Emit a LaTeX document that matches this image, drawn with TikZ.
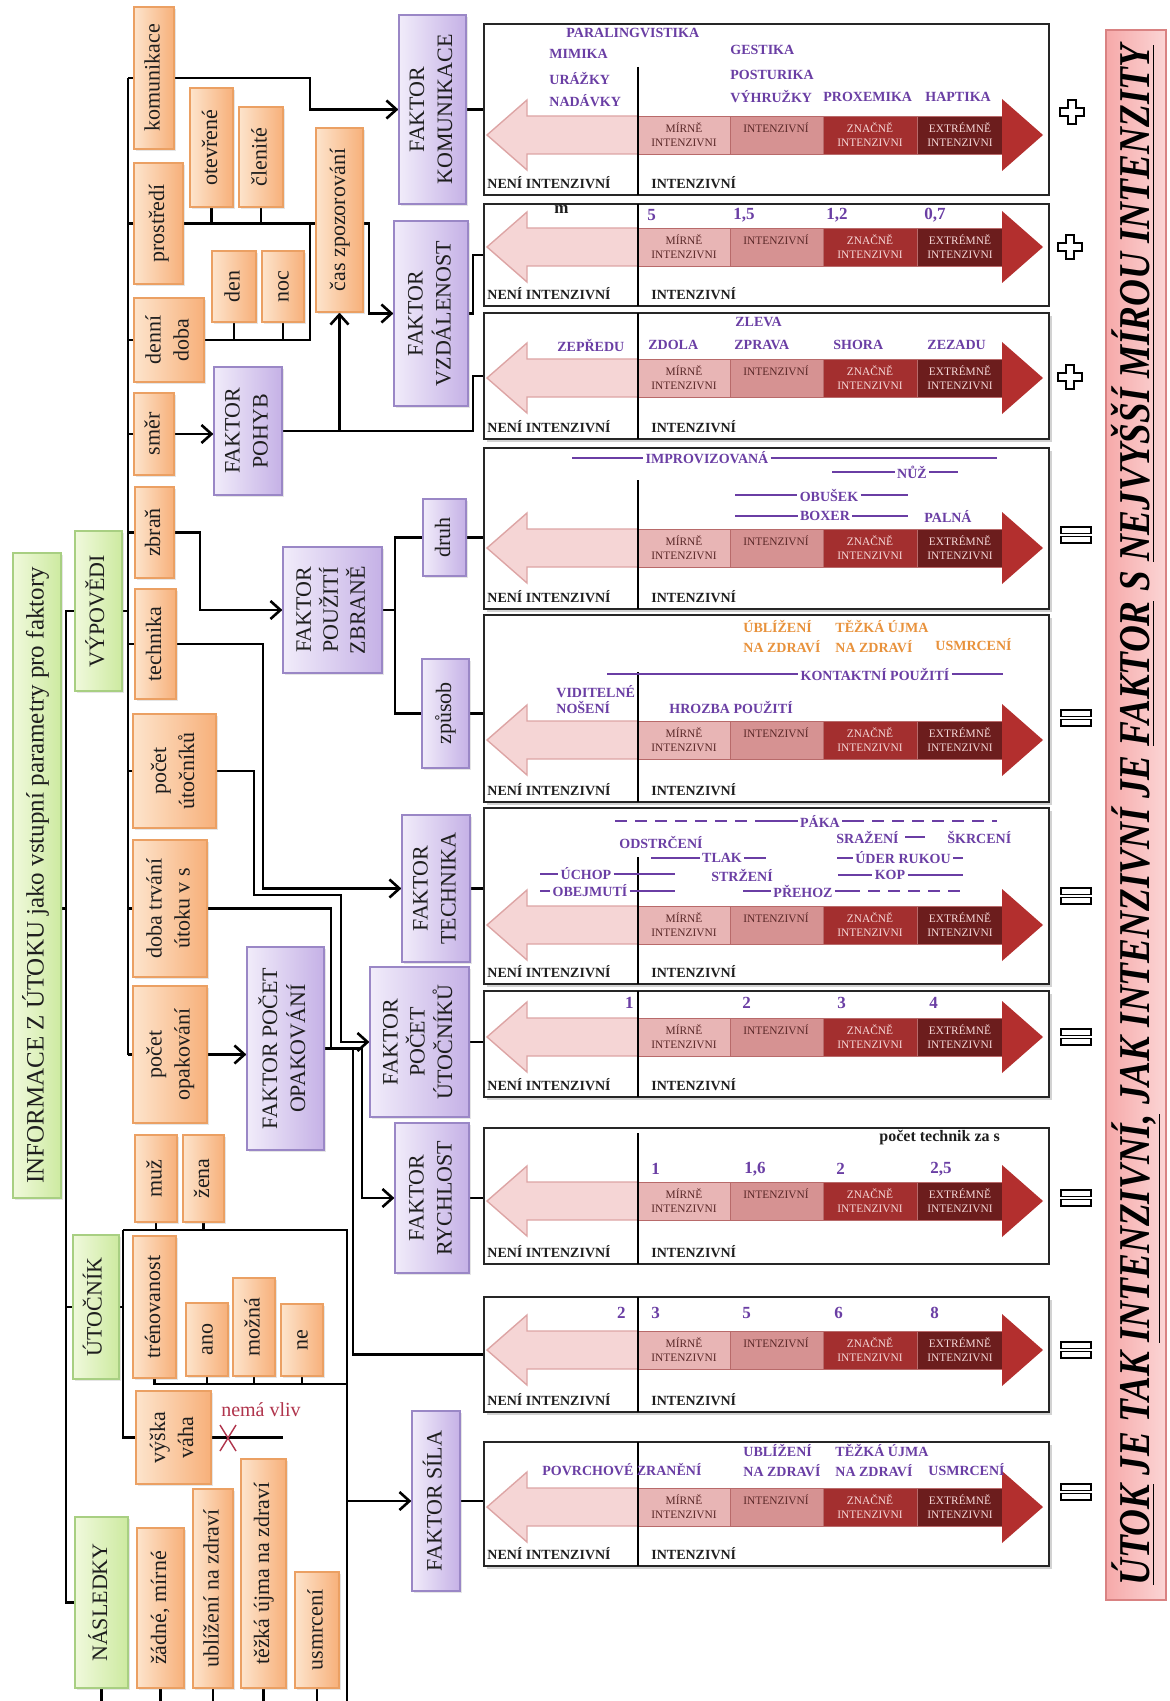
\documentclass[tikz,border=0pt]{standalone}
\usepackage{fontspec}
\setmainfont{Liberation Serif}
\usepackage{graphicx}
\usepackage{tikz}
\usetikzlibrary{arrows.meta,fit,backgrounds,shadows}
\pgfdeclarelayer{paper}
\pgfsetlayers{paper,background,main}
\definecolor{ink}{HTML}{1E1E1E}
\definecolor{orangeL}{HTML}{FDE4CC}
\definecolor{orangeD}{HTML}{F7B07A}
\definecolor{orangeB}{HTML}{EBA063}
\definecolor{purpleL}{HTML}{F1ECFA}
\definecolor{purpleD}{HTML}{C5B1E6}
\definecolor{purpleB}{HTML}{9A87C6}
\definecolor{greenL}{HTML}{F0F9DC}
\definecolor{greenD}{HTML}{CDEAA0}
\definecolor{greenB}{HTML}{A8CF82}
\definecolor{labviolet}{HTML}{6A3EA4}
\definecolor{laborange}{HTML}{E8923C}
\definecolor{arrL}{HTML}{F5D5D5}
\definecolor{arrLB}{HTML}{DDA5A5}
\definecolor{segA}{HTML}{E8B5B5}
\definecolor{segB}{HTML}{D69292}
\definecolor{segC}{HTML}{A32F2F}
\definecolor{segD}{HTML}{6C1D1D}
\definecolor{segE}{HTML}{B32F2E}
\definecolor{segline}{HTML}{B86A6A}
\definecolor{segink}{HTML}{5A2828}
\definecolor{seglight}{HTML}{F6D8D8}
\definecolor{noeff}{HTML}{B0344C}
\definecolor{bannerL}{HTML}{F6A9A9}
\definecolor{bannerR}{HTML}{FBD5D5}
\definecolor{bannerB}{HTML}{D98282}
\tikzset{
  conn/.style={line width=1.3pt, draw=black},
  arr/.style={-{Straight Barb[length=5pt,width=9pt]}},
  boxbase/.style={inner sep=0pt, line width=0.6pt, text=ink,
    font=\fontsize{11}{14}\selectfont,
    drop shadow={shadow xshift=1pt, shadow yshift=-1pt, opacity=0.2}},
  obox/.style={boxbase, draw=orangeB, left color=orangeL, right color=orangeD},
  pbox/.style={boxbase, draw=purpleB, left color=purpleL, right color=purpleD},
  gbox/.style={boxbase, draw=greenB, left color=greenL, right color=greenD},
  panel/.style={draw=black!85, line width=0.9pt, fill=white, inner sep=0pt},
  panelsh/.style={panel, drop shadow={shadow xshift=1.5pt, shadow yshift=-1.5pt, opacity=0.35}},
  leftarr/.style={fill=arrL, draw=arrLB, line width=0.7pt},
  segbox/.style={draw=segline, line width=0.4pt},
  segtxt/.style={font=\fontsize{5.7}{7}\selectfont, align=center, text=segink, inner sep=0pt},
  divline/.style={draw=black, line width=1pt},
  zone/.style={font=\bfseries\fontsize{7}{8}\selectfont, text=ink, inner sep=1pt},
  lab/.style={font=\bfseries\fontsize{7}{8.5}\selectfont, text=labviolet, inner sep=1pt},
  labo/.style={lab, text=laborange, align=left, font=\bfseries\fontsize{7}{10}\selectfont},
  numlab/.style={font=\bfseries\fontsize{8.5}{9}\selectfont, text=labviolet, inner sep=1pt},
  labline/.style={draw=labviolet, line width=1pt},
  dashln/.style={labline, dash pattern=on 6pt off 4pt},
  signmark/.style={draw=black, line width=0.9pt, fill=white},
  banner/.style={draw=bannerB, line width=0.8pt, left color=bannerL, right color=bannerR, inner sep=0pt}
}
% rotated box text
\newcommand{\vtext}[1]{\rotatebox{90}{\begin{tabular}{@{}c@{}}#1\end{tabular}}}
% box from its corners: style, name, x1, y1, x2, y2, text
\newcommand{\treebox}[7]{\node[#1, minimum width={(#5-#3)*0.5pt}, minimum height={(#6-#4)*0.5pt}]
  (#2) at ({(#3+#5)/2},{(#4+#6)/2}) {\vtext{#7}};}
% intensity scale: name, top, bottom, bar centre, divider top, frame style
\newcommand{\intpanel}[6]{%
  \node[#6, fit={(484,#2) (1049,#3)}] (#1) {};
  \filldraw[leftarr] (487,#4) -- (527,{#4-35}) -- (527,{#4-19}) -- (638,{#4-19})
    -- (638,{#4+19}) -- (527,{#4+19}) -- (527,{#4+35}) -- cycle;
  \filldraw[segbox, fill=segA] (638,{#4-19}) rectangle (730,{#4+19});
  \filldraw[segbox, fill=segB] (730,{#4-19}) rectangle (823,{#4+19});
  \filldraw[segbox, fill=segC] (823,{#4-19}) rectangle (917,{#4+19});
  \filldraw[segbox, fill=segD] (917,{#4-19}) rectangle (1002,{#4+19});
  \fill[segE] (1002,{#4-36}) -- (1043,#4) -- (1002,{#4+36}) -- cycle;
  \node[segtxt] (#1-a) at (684,#4) {MÍRNĚ\\INTENZIVNI};
  \node[segtxt] (#1-b) at (776,{#4-7}) {INTENZIVNÍ};
  \node[segtxt, text=seglight] (#1-c) at (870,#4) {ZNAČNĚ\\INTENZIVNI};
  \node[segtxt, text=seglight] (#1-d) at (960,#4) {EXTRÉMNĚ\\INTENZIVNI};
  \draw[divline] (638,#5) -- (638,#3);
  \node[zone, anchor=west] (#1-no) at (485,{#3-12}) {NENÍ INTENZIVNÍ};
  \node[zone, anchor=west] (#1-yes) at (649,{#3-12}) {INTENZIVNÍ};
}
\newcommand{\plusmark}[2]{\draw[signmark, line width=1.1pt, shift={(#1,#2)}] (-4,-12) -- (4,-12) -- (4,-4) -- (12,-4)
  -- (12,4) -- (4,4) -- (4,12) -- (-4,12) -- (-4,4) -- (-12,4) -- (-12,-4) -- (-4,-4) -- cycle;}
\newcommand{\eqmark}[2]{\draw[signmark, line width=0.8pt, shift={(#1,#2)}] (-15,-8) rectangle (15,-1.5) (-15,1.5) rectangle (15,8);}

\begin{document}
\begin{tikzpicture}[x=0.5pt, y=-0.5pt]
  \begin{pgfonlayer}{paper}
    \fill[white] (0,0) rectangle (1170,1701);
  \end{pgfonlayer}
  \useasboundingbox (0,0) rectangle (1170,1701);

  % bus positions
  \coordinate (trunk) at (66,0);
  \coordinate (vbus) at (128,0);
  \coordinate (kbus) at (310,0);
  \coordinate (pbus) at (369,0);
  \coordinate (rbus) at (473,0);
  \coordinate (wbus) at (200,0);
  \coordinate (zbus) at (395,0);
  \coordinate (tbus) at (263,0);
  \coordinate (abus) at (254,0);
  \coordinate (alev) at (0,895);
  \coordinate (abus2) at (341,0);
  \coordinate (dbus) at (331,0);
  \coordinate (obus) at (362,0);
  \coordinate (obus2) at (353,0);
  \coordinate (ubus) at (123,1230);
  \coordinate (sbus) at (347,1230);
  \coordinate (tlev) at (347,1384);
  \coordinate (btm) at (0,1701);
  \coordinate (cut) at (283,1437.5);

  % green groups
  \treebox{gbox, font=\fontsize{12.5}{14}\selectfont}{info}{13}{553}{61}{1198}{INFORMACE Z ÚTOKU jako vstupní parametry pro faktory}
  \treebox{gbox}{vyp}{75}{531}{122}{691}{VÝPOVĚDI}
  \treebox{gbox}{utoc}{73}{1235}{119}{1379}{ÚTOČNÍK}
  \treebox{gbox}{nasl}{75}{1517}{128}{1688}{NÁSLEDKY}

  % statements
  \treebox{obox}{komun}{134}{7}{174}{149}{komunikace}
  \treebox{obox}{prostr}{134}{163}{183}{284}{prostředí}
  \treebox{obox}{denni}{134}{298}{204}{382}{denní\\doba}
  \treebox{obox}{smer}{134}{393}{174}{475}{směr}
  \treebox{obox}{zbran}{135}{487}{174}{578}{zbraň}
  \treebox{obox}{techn}{135}{589}{176}{699}{technika}
  \treebox{obox}{pocut}{133}{714}{216}{828}{počet\\útočníků}
  \treebox{obox}{doba}{133}{840}{207}{977}{doba trvání\\útoku v s}
  \treebox{obox}{pocop}{133}{986}{207}{1123}{počet\\opakování}
  \treebox{obox}{otevr}{190}{88}{233}{207}{otevřené}
  \treebox{obox}{clen}{239}{107}{283}{207}{členité}
  \treebox{obox}{den}{212}{251}{256}{322}{den}
  \treebox{obox}{noc}{262}{251}{304}{322}{noc}
  \treebox{obox}{cas}{316}{128}{363}{312}{čas zpozorování}

  % attacker
  \treebox{obox}{muz}{135}{1135}{177}{1222}{muž}
  \treebox{obox}{zena}{183}{1135}{224}{1222}{žena}
  \treebox{obox}{trenov}{133}{1236}{176}{1378}{trénovanost}
  \treebox{obox}{ano}{186}{1303}{228}{1376}{ano}
  \treebox{obox}{mozna}{233}{1278}{275}{1376}{možná}
  \treebox{obox}{neb}{281}{1304}{323}{1376}{ne}
  \treebox{obox}{vyska}{136}{1391}{211}{1484}{výška\\váha}

  % consequences
  \treebox{obox}{zadne}{137}{1528}{184}{1688}{žádné, mírné}
  \treebox{obox}{ublizeni}{193}{1489}{233}{1688}{ublížení na zdraví}
  \treebox{obox}{tezka}{241}{1459}{286}{1688}{těžká újma na zdraví}
  \treebox{obox}{usmrceni}{295}{1572}{339}{1688}{usmrcení}

  % factors
  \treebox{pbox}{fkom}{399}{15}{466}{204}{FAKTOR\\KOMUNIKACE}
  \treebox{pbox}{fvzd}{394}{221}{468}{406}{FAKTOR\\VZDÁLENOST}
  \treebox{pbox}{fpoh}{214}{367}{282}{495}{FAKTOR\\POHYB}
  \treebox{pbox, font=\fontsize{11}{13.5}\selectfont}{fzbr}{283}{547}{382}{673}{FAKTOR\\POUŽITÍ\\ZBRANĚ}
  \treebox{pbox}{druh}{423}{499}{466}{576}{druh}
  \treebox{pbox}{zpusob}{422}{659}{469}{768}{způsob}
  \treebox{pbox}{ftech}{402}{815}{470}{962}{FAKTOR\\TECHNIKA}
  \treebox{pbox}{fopak}{247}{947}{324}{1150}{FAKTOR POČET\\OPAKOVÁNÍ}
  \treebox{pbox, font=\fontsize{11}{13.5}\selectfont}{futoc}{370}{967}{469}{1117}{FAKTOR\\POČET\\ÚTOČNÍKŮ}
  \treebox{pbox}{frych}{395}{1123}{469}{1273}{FAKTOR\\RYCHLOST}
  \treebox{pbox}{fsila}{412}{1411}{460}{1591}{FAKTOR SÍLA}

  % intensity scales
  \intpanel{p1}{24}{195}{135}{67}{panel}
  \intpanel{p2}{204}{306}{247}{204}{panel}
  \intpanel{p3}{313}{439}{378}{313}{panelsh}
  \intpanel{p4}{448}{609}{548}{480}{panelsh}
  \intpanel{p5}{615}{802}{740}{672}{panelsh}
  \intpanel{p6}{808}{984}{925}{857}{panelsh}
  \intpanel{p7}{991}{1097}{1037}{991}{panelsh}
  \intpanel{p8}{1128}{1264}{1201}{1133}{panel}
  \intpanel{p9}{1297}{1412}{1350}{1297}{panelsh}
  \intpanel{p10}{1442}{1566}{1507}{1442}{panelsh}

  % communication
  \node[lab, anchor=west] (paraling) at (564,33) {PARALINGVISTIKA};
  \node[lab, anchor=west] (mimika) at (547,54) {MIMIKA};
  \node[lab, anchor=west] (urazky) at (547,78) {URÁŽKY};
  \node[lab, anchor=west] (nadavky) at (547,101) {NADÁVKY};
  \node[lab, anchor=west] (gestika) at (728,50) {GESTIKA};
  \node[lab, anchor=west] (posturika) at (728,75) {POSTURIKA};
  \node[lab, anchor=west] (vyhruzky) at (728,97) {VÝHRUŽKY};
  \node[lab, anchor=west] (proxemika) at (821,97) {PROXEMIKA};
  \node[lab, anchor=west] (haptika) at (923,97) {HAPTIKA};

  % distance
  \node[numlab, text=ink, anchor=west] (munit) at (552,209) {m};
  \node[numlab, anchor=west] (d5) at (645,215) {5};
  \node[numlab, anchor=west] (d15) at (731,215) {1,5};
  \node[numlab, anchor=west] (d12) at (824,215) {1,2};
  \node[numlab, anchor=west] (d07) at (922,215) {0,7};

  % direction
  \node[lab, anchor=west] (zleva) at (733,322) {ZLEVA};
  \node[lab, anchor=west] (zepredu) at (555,345) {ZEPŘEDU};
  \node[lab, anchor=west] (zdola) at (646,345) {ZDOLA};
  \node[lab, anchor=west] (zprava) at (732,345) {ZPRAVA};
  \node[lab, anchor=west] (shora) at (831,345) {SHORA};
  \node[lab, anchor=west] (zezadu) at (925,345) {ZEZADU};

  % weapon kind
  \node[lab] (improv) at (707,458) {IMPROVIZOVANÁ};
  \draw[labline] (572,458) -- (improv.west) (improv.east) -- (997,458);
  \node[lab] (nuz) at (912,472) {NŮŽ};
  \draw[labline] (832,472) -- (nuz.west) (nuz.east) -- (958,472);
  \node[lab] (obusek) at (829,495) {OBUŠEK};
  \draw[labline] (735,495) -- (obusek.west) (obusek.east) -- (908,495);
  \node[lab] (boxer) at (825,516) {BOXER};
  \draw[labline] (735,516) -- (boxer.west) (boxer.east) -- (908,516);
  \node[lab, anchor=west] (palna) at (922,516) {PALNÁ};

  % weapon use
  \node[labo, anchor=west] (ubl) at (741,637) {ÚBLÍŽENÍ\\NA ZDRAVÍ};
  \node[labo, anchor=west] (tezk) at (833,637) {TĚŽKÁ ÚJMA\\NA ZDRAVÍ};
  \node[labo, anchor=west] (usm) at (933,645) {USMRCENÍ};
  \node[lab] (kontakt) at (875,674) {KONTAKTNÍ POUŽITÍ};
  \draw[labline] (607,674) -- (kontakt.west) (kontakt.east) -- (1003,674);
  \node[lab, anchor=west, align=left, font=\bfseries\fontsize{7}{8}\selectfont] (vidit) at (554,700) {VIDITELNÉ\\NOŠENÍ};
  \node[lab, anchor=west] (hrozba) at (667,707) {HROZBA POUŽITÍ};

  % technique
  \node[lab] (paka) at (820,821) {PÁKA};
  \draw[dashln] (615,821) -- (765,821);
  \draw[labline] (765,821) -- (paka.west) (paka.east) -- (864,821);
  \draw[dashln] (872,821) -- (997,821);
  \node[lab, anchor=west] (odstrceni) at (617,842) {ODSTRČENÍ};
  \node[lab, anchor=west] (srazeni) at (834,837) {SRAŽENÍ};
  \draw[labline] ([xshift=2pt]srazeni.east) -- ++(20,0);
  \node[lab, anchor=west] (skrceni) at (945,837) {ŠKRCENÍ};
  \node[lab] (tlak) at (722,858) {TLAK};
  \draw[labline] (651,858) -- (tlak.west) (tlak.east) -- (766,858);
  \node[lab] (uder) at (903,858) {ÚDER RUKOU};
  \draw[labline] (837,858) -- (uder.west) (uder.east) -- (963,858);
  \node[lab] (uchop) at (586,874) {ÚCHOP};
  \draw[labline] (540,874) -- (uchop.west) (uchop.east) -- (675,874);
  \node[lab] (strzeni) at (742,875) {STRŽENÍ};
  \node[lab] (kop) at (890,875) {KOP};
  \draw[labline] (838,875) -- (kop.west) (kop.east) -- (963,875);
  \node[lab] (obejmuti) at (590,891) {OBEJMUTÍ};
  \draw[labline] (540,891) -- (obejmuti.west) (obejmuti.east) -- (675,891);
  \node[lab] (prehoz) at (803,891) {PŘEHOZ};
  \draw[labline] (743,891) -- (prehoz.west) (prehoz.east) -- (860,891);
  \draw[dashln] (868,891) -- (963,891);

  % attackers
  \node[numlab, anchor=east] (n1) at (636,1003) {1};
  \node[numlab, anchor=west] (n2) at (740,1003) {2};
  \node[numlab, anchor=west] (n3) at (835,1003) {3};
  \node[numlab, anchor=west] (n4) at (927,1003) {4};

  % speed
  \node[zone, anchor=west, font=\bfseries\fontsize{8}{9}\selectfont] (persec) at (877,1138) {počet technik za s};
  \node[numlab, anchor=west] (r1) at (649,1169) {1};
  \node[numlab, anchor=west] (r16) at (742,1169) {1,6};
  \node[numlab, anchor=west] (r2) at (834,1169) {2};
  \node[numlab, anchor=west] (r25) at (928,1169) {2,5};

  % repetitions
  \node[numlab, anchor=east] (o2) at (628,1313) {2};
  \node[numlab, anchor=west] (o3) at (649,1313) {3};
  \node[numlab, anchor=west] (o5) at (740,1313) {5};
  \node[numlab, anchor=west] (o6) at (832,1313) {6};
  \node[numlab, anchor=west] (o8) at (928,1313) {8};

  % force
  \node[lab, anchor=west] (povrch) at (540,1470) {POVRCHOVÉ ZRANĚNÍ};
  \node[lab, anchor=west, align=left, font=\bfseries\fontsize{7}{10}\selectfont] (ubl2) at (741,1461) {UBLÍŽENÍ\\NA ZDRAVÍ};
  \node[lab, anchor=west, align=left, font=\bfseries\fontsize{7}{10}\selectfont] (tezk2) at (833,1461) {TĚŽKÁ ÚJMA\\NA ZDRAVÍ};
  \node[lab, anchor=west] (usm2) at (926,1470) {USMRCENÍ};

  % combination signs
  \plusmark{1072}{112}
  \plusmark{1070}{247}
  \plusmark{1070}{377}
  \eqmark{1076}{535}
  \eqmark{1076}{718}
  \eqmark{1076}{896}
  \eqmark{1076}{1037}
  \eqmark{1076}{1198}
  \eqmark{1076}{1350}
  \eqmark{1076}{1492}

  \node[banner, minimum width=30pt, minimum height=785pt] (concl) at (1136,815) {\rotatebox{90}{\resizebox{770pt}{\height}{\fontsize{22}{22}\selectfont\bfseries\itshape
    \underline{ÚTOK} JE TAK \underline{INTENZIVNÍ,} JAK INTENZIVNÍ JE \underline{FAKTOR} S \underline{NEJVYŠŠÍ MÍROU INTENZITY}}}};

  \node[text=noeff, font=\fontsize{10}{12}\selectfont, inner sep=0pt] (nemavliv) at (261,1410) {nemá vliv};

  \begin{pgfonlayer}{background}
    % main tree
    \draw[conn] (vyp.west) -- (vyp.west -| trunk) -- (nasl.west -| trunk) -- (nasl.west);
    \draw[conn] (info.east |- doba.east) -- (doba.east -| trunk);
    \draw[conn] (utoc.west -| trunk) -- (utoc.west);
    \draw[conn] (vyp.east) -- (vyp.east -| vbus);
    \draw[conn] (komun.west -| vbus) -- (pocop.west -| vbus);
    \draw[conn] (komun.west -| vbus) -- (komun.west);
    \draw[conn] (prostr.west -| vbus) -- (prostr.west);
    \draw[conn] (denni.west -| vbus) -- (denni.west);
    \draw[conn] (smer.west -| vbus) -- (smer.west);
    \draw[conn] (zbran.west -| vbus) -- (zbran.west);
    \draw[conn] (techn.west -| vbus) -- (techn.west);
    \draw[conn] (pocut.west -| vbus) -- (pocut.west);
    \draw[conn] (doba.west -| vbus) -- (doba.west);
    \draw[conn] (pocop.west -| vbus) -- (pocop.west);

    % communication, distance, movement
    \draw[conn, arr] (komun.east) -- (komun.east -| kbus) -- (fkom.west -| kbus) -- (fkom.west);
    \draw[conn] (fkom.east) -- (fkom.east -| p1.west);
    \draw[conn, arr] (prostr.east) -- (prostr.east -| pbus) -- (fvzd.west -| pbus) -- (fvzd.west);
    \draw[conn] (otevr.south) -- (otevr.south |- prostr.east);
    \draw[conn] (clen.south) -- (clen.south |- prostr.east);
    \draw[conn] (denni.east) -- (denni.east -| kbus) -- (prostr.east -| kbus);
    \draw[conn] (den.south) -- (den.south |- denni.east);
    \draw[conn] (noc.south) -- (noc.south |- denni.east);
    \draw[conn, arr] (smer.east) -- (smer.east -| fpoh.west);
    \draw[conn, arr] (cas.south |- fpoh.east) -- (cas.south);
    \draw[conn] (fpoh.east) -- (fpoh.east -| rbus) -- (p3.west -| rbus) -- (p3.west);
    \draw[conn] (fvzd.east) -- (fvzd.east -| rbus) -- (p2.west -| rbus) -- (p2.west);

    % weapon
    \draw[conn, arr] (zbran.east) -- (zbran.east -| wbus) -- (fzbr.west -| wbus) -- (fzbr.west);
    \draw[conn] (fzbr.east) -- (fzbr.east -| zbus);
    \draw[conn] (druh.west) -- (druh.west -| zbus) -- (zpusob.west -| zbus) -- (zpusob.west);
    \draw[conn] (druh.east) -- (druh.east -| p4.west);
    \draw[conn] (zpusob.east) -- (zpusob.east -| p5.west);

    % technique, attackers, duration, repetitions
    \draw[conn, arr] (techn.east) -- (techn.east -| tbus) -- (ftech.west -| tbus) -- (ftech.west);
    \draw[conn] (ftech.east) -- (ftech.east -| p6.west);
    \draw[conn, arr] (pocut.east) -- (pocut.east -| abus) -- (abus |- alev) -- (abus2 |- alev) -- (futoc.west -| abus2) -- (futoc.west);
    \draw[conn] (futoc.east) -- (futoc.east -| p7.west);
    \draw[conn] (doba.east) -- (doba.east -| dbus) -- (fopak.east -| dbus);
    \draw[conn, arr] (pocop.east) -- (pocop.east -| fopak.west);
    \draw[conn, arr] (fopak.east) -- (fopak.east -| obus) -- (frych.west -| obus) -- (frych.west);
    \draw[conn] (frych.east) -- (frych.east -| p8.west);
    \draw[conn] (fopak.east -| obus2) -- (p9.west -| obus2) -- (p9.west);

    % attacker
    \draw[conn] (utoc.east) -- (utoc.east -| ubus);
    \draw[conn] (ubus) -- (ubus |- vyska.west) -- (vyska.west);
    \draw[conn] (ubus) -- (sbus) -- (sbus |- btm);
    \draw[conn] (muz.south) -- (muz.south |- ubus);
    \draw[conn] (zena.south) -- (zena.south |- ubus);
    \draw[conn] (trenov.south) -- (trenov.south |- tlev) -- (tlev);
    \draw[conn] (ano.south) -- (ano.south |- tlev);
    \draw[conn] (mozna.south) -- (mozna.south |- tlev);
    \draw[conn] (neb.south) -- (neb.south |- tlev);
    \draw[conn, arr] (sbus |- fsila.west) -- (fsila.west);
    \draw[conn] (fsila.east) -- (fsila.east -| p10.west);
    \draw[conn] (vyska.east) -- (cut);

    % consequences
    \draw[conn] (nasl.south) -- (nasl.south |- btm);
    \draw[conn] (zadne.south) -- (zadne.south |- btm);
    \draw[conn] (ublizeni.south) -- (ublizeni.south |- btm);
    \draw[conn] (tezka.south) -- (tezka.south |- btm);
    \draw[conn] (usmrceni.south) -- (usmrceni.south |- btm);
  \end{pgfonlayer}

  % no influence
  \draw[draw=noeff, line width=0.7pt] (220,1425) -- (236,1451) (220,1451) -- (236,1425);
\end{tikzpicture}
\end{document}
